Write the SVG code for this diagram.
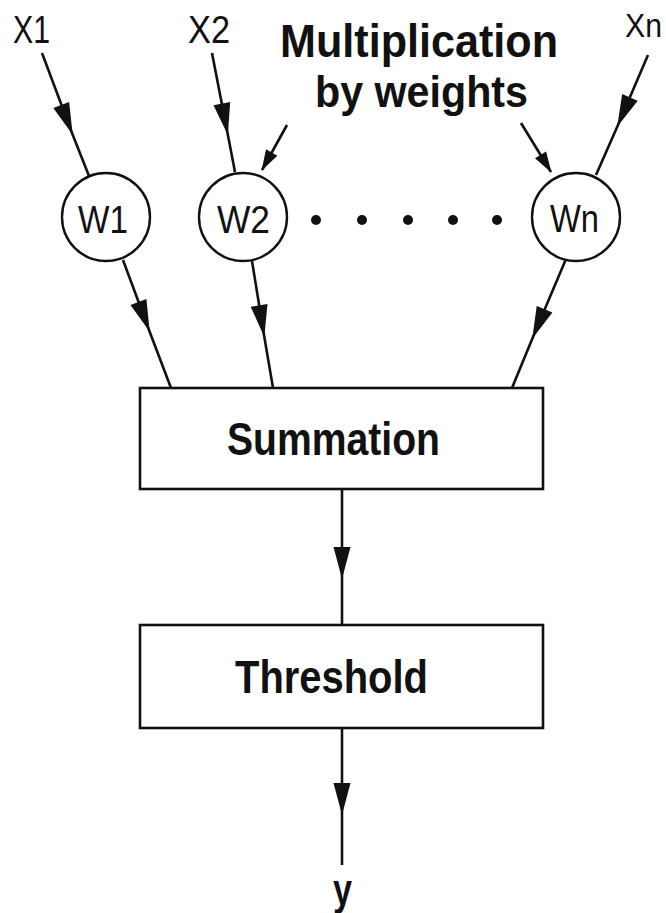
<svg xmlns="http://www.w3.org/2000/svg" width="666" height="913" viewBox="0 0 666 913">
<style>
.ln{fill:none;stroke:#111;stroke-width:2.6}
.box{fill:#fff;stroke:#111;stroke-width:2.6}
.nd{fill:#fff;stroke:#111;stroke-width:2.4}
.t{font-family:"Liberation Sans Narrow","Liberation Sans",Arial,sans-serif;fill:#111}
.b{font-weight:bold}
.c{text-anchor:middle}
</style>
<defs>
<marker id="ah" markerUnits="userSpaceOnUse" markerWidth="34" markerHeight="20" viewBox="-31 -10 34 20" refX="0" refY="0" orient="auto">
<path d="M2,0 L-30,-8.5 L-30,8.5 Z" fill="#111"/>
</marker>
<marker id="ahs" markerUnits="userSpaceOnUse" markerWidth="24" markerHeight="16" viewBox="-22 -8 24 16" refX="0" refY="0" orient="auto">
<path d="M1,0 L-20,-6.5 L-20,6.5 Z" fill="#111"/>
</marker>
</defs>
<rect width="666" height="913" fill="#fff"/>
<g id="connectors">
<path class="ln" d="M42,53 L72,133 L89,176" marker-mid="url(#ah)"/>
<path class="ln" d="M212,53 L227.5,133 L235,172" marker-mid="url(#ah)"/>
<path class="ln" d="M648,55 L618,125 L596,175" marker-mid="url(#ah)"/>
<path class="ln" d="M287,125 L262,170" marker-end="url(#ahs)"/>
<path class="ln" d="M521,123 L551,172" marker-end="url(#ahs)"/>
<path class="ln" d="M123,260 L149,330 L171,388" marker-mid="url(#ah)"/>
<path class="ln" d="M252,261 L264,335 L273,388" marker-mid="url(#ah)"/>
<path class="ln" d="M566,259 L533,337 L512,388" marker-mid="url(#ah)"/>
<path class="ln" d="M342,489 L342,577 L342,625" marker-mid="url(#ah)"/>
<path class="ln" d="M342,728 L342,813 L342,865" marker-mid="url(#ah)"/>
</g>
<g id="inputs">
<text class="t" x="13" y="43" font-size="39" textLength="37" lengthAdjust="spacingAndGlyphs">X1</text>
<text class="t" x="188" y="43" font-size="39" textLength="42" lengthAdjust="spacingAndGlyphs">X2</text>
<text class="t" x="625" y="37" font-size="33" textLength="37" lengthAdjust="spacingAndGlyphs">Xn</text>
</g>
<g id="label">
<text class="t b" x="280" y="57" font-size="46" textLength="278" lengthAdjust="spacingAndGlyphs">Multiplication</text>
<text class="t b" x="315" y="107" font-size="44" textLength="213" lengthAdjust="spacingAndGlyphs">by weights</text>
</g>
<g id="w1">
<circle class="nd" cx="106" cy="217" r="44"/>
<text class="t" x="78" y="233" font-size="39" textLength="50" lengthAdjust="spacingAndGlyphs">W1</text>
</g>
<g id="w2">
<circle class="nd" cx="243" cy="217" r="44"/>
<text class="t" x="217" y="233" font-size="39" textLength="53" lengthAdjust="spacingAndGlyphs">W2</text>
</g>
<g id="dots" fill="#111">
<circle cx="316" cy="220" r="5"/>
<circle cx="362" cy="220" r="5"/>
<circle cx="408" cy="220" r="5"/>
<circle cx="453" cy="220" r="5"/>
<circle cx="497" cy="220" r="5"/>
</g>
<g id="wn">
<circle class="nd" cx="576" cy="217" r="44"/>
<text class="t" x="550" y="232" font-size="39" textLength="49" lengthAdjust="spacingAndGlyphs">Wn</text>
</g>
<g id="summation">
<rect class="box" x="140" y="388" width="403" height="101"/>
<text class="t b" x="227" y="455" font-size="46" textLength="213" lengthAdjust="spacingAndGlyphs">Summation</text>
</g>
<g id="threshold">
<rect class="box" x="140" y="625" width="403" height="103"/>
<text class="t b" x="235" y="693" font-size="46" textLength="193" lengthAdjust="spacingAndGlyphs">Threshold</text>
</g>
<g id="output">
<text class="t b" x="333" y="905" font-size="44" textLength="19" lengthAdjust="spacingAndGlyphs">y</text>
</g>
</svg>
